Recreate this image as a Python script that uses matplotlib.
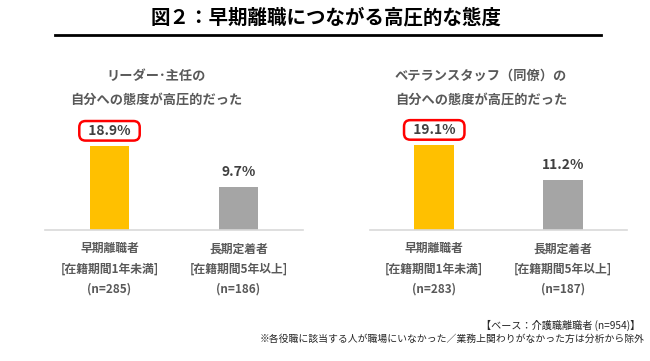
import matplotlib
matplotlib.use("Agg")
import matplotlib.pyplot as plt
from matplotlib.lines import Line2D

plt.rcParams['font.family'] = ['Noto Sans CJK JP', 'DejaVu Sans']

# データ
title = "図２：早期離職につながる高圧的な態度"
panel_titles = ["リーダー･主任の\n自分への態度が高圧的だった",
                "ベテランスタッフ（同僚）の\n自分への態度が高圧的だった"]
groups = ["早期離職者", "長期定着者"]
periods = ["[在籍期間1年未満]", "[在籍期間5年以上]"]
n_left = [285, 186]
n_right = [283, 187]
vals_left = [18.9, 9.7]
vals_right = [19.1, 11.2]
colors = ["#FFC000", "#A5A5A5"]
note1 = "【ベース：介護職離職者 (n=954)】"
note2 = "※各役職に該当する人が職場にいなかった／業務上関わりがなかった方は分析から除外"

W, H = 650, 361
fig = plt.figure(figsize=(W / 100, H / 100), dpi=100)

def px(x0, y0, x1, y1):
    # ピクセル座標(左上原点) -> figure座標
    return [x0 / W, 1 - y1 / H, (x1 - x0) / W, (y1 - y0) / H]

txt_grey = "#595959"
val_grey = "#404040"

fig.text(326 / W, 1 - 17 / H, title, ha="center", va="center",
         fontsize=14, fontweight="bold", color="black")
fig.add_artist(Line2D([55 / W, 601 / W], [1 - 35 / H, 1 - 35 / H],
                      color="black", lw=2, transform=fig.transFigure))

panels = [(45, 303, 156, vals_left, n_left, panel_titles[0]),
          (370, 627, 481, vals_right, n_right, panel_titles[1])]
ymax = 25
for x0, x1, tx, vals, ns, ptitle in panels:
    top = 230 - ymax * 4.44
    ax = fig.add_axes(px(x0, top, x1, 230))
    xs = range(len(vals))
    ax.bar(xs, vals, width=0.31, color=colors)
    ax.set_xlim(-0.5, 1.5)
    ax.set_ylim(0, ymax)
    ax.axis("off")
    ax.axhline(0, color="#D9D9D9", lw=1.2, clip_on=False)
    for i, v in enumerate(vals):
        label = f"{v:.1f}%"
        bbox = None
        if i == 0:
            label = f"  {label}  "
            bbox = dict(boxstyle="round,pad=0.2,rounding_size=0.45",
                        fc="white", ec="#FF0000", lw=1.8)
        ax.annotate(label, (i, v), xytext=(0, 11), textcoords="offset points",
                    ha="center", va="center", fontsize=10, fontweight="bold",
                    color=val_grey, bbox=bbox)
        lines = [groups[i], periods[i], f"(n={ns[i]})"]
        for k, s in enumerate(lines):
            ax.annotate(s, (i, 0), xytext=(0, -13.5 - 14.5 * k), textcoords="offset points",
                        ha="center", va="center", fontsize=8.5, fontweight="bold",
                        color=txt_grey)
    l1, l2 = ptitle.split("\n")
    fig.text(tx / W, 1 - 76 / H, l1, ha="center", va="center",
             fontsize=9.5, fontweight="bold", color=txt_grey)
    fig.text(tx / W, 1 - 100 / H, l2, ha="center", va="center",
             fontsize=9.5, fontweight="bold", color=txt_grey)

fig.text(640 / W, 1 - 325 / H, note1, ha="right", va="center",
         fontsize=7.3, color="#262626")
fig.text(645 / W, 1 - 339 / H, note2, ha="right", va="center",
         fontsize=7.1, color="#262626")

fig.savefig("out.png", dpi=100, facecolor="white")
